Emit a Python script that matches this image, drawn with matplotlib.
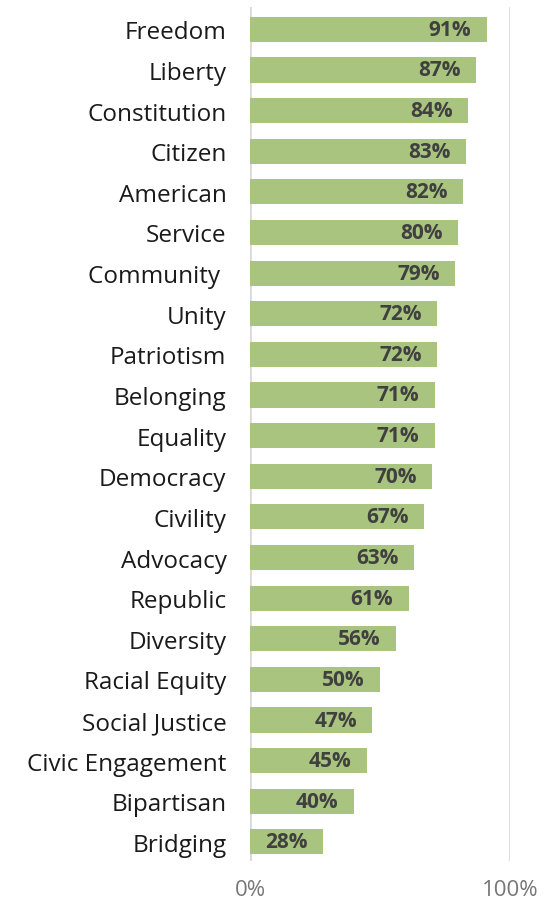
import matplotlib
matplotlib.use("Agg")
import matplotlib.pyplot as plt

# survey terms and share of respondents viewing each positively
terms = ["Freedom", "Liberty", "Constitution", "Citizen", "American", "Service",
         "Community ", "Unity", "Patriotism", "Belonging", "Equality", "Democracy",
         "Civility", "Advocacy", "Republic", "Diversity", "Racial Equity",
         "Social Justice", "Civic Engagement", "Bipartisan", "Bridging"]
values = [91, 87, 84, 83, 82, 80, 79, 72, 72, 71, 71, 70, 67, 63, 61, 56, 50, 47, 45, 40, 28]
x_ticks = [0, 100]
x_tick_labels = ["0%", "100%"]

plt.rcParams["font.family"] = ["Open Sans", "DejaVu Sans"]

fig = plt.figure(figsize=(5.47, 9.04), dpi=100)
ax = fig.add_axes([250 / 547, 1 - 862 / 904, 260 / 547, 854 / 904])

pos = list(range(len(terms)))
ax.barh(pos, values, height=0.62, color="#a9c47f", zorder=2)

for p, v in zip(pos, values):
    ax.annotate(f"{v}%", xy=(v, p), xytext=(-11, 0), textcoords="offset points",
                ha="right", va="center", fontsize=15, fontweight="bold",
                color="#404040", zorder=3)

ax.set_xlim(0, 100)
ax.set_ylim(20.47, -0.55)
ax.set_yticks(pos)
ax.set_yticklabels(terms, fontsize=17.5, color="#1a1a1a")
ax.set_xticks(x_ticks)
ax.set_xticklabels(x_tick_labels, fontsize=16, color="#777777")
ax.tick_params(axis="both", length=0)
ax.tick_params(axis="y", pad=17)
ax.tick_params(axis="x", pad=13)

for x in x_ticks:
    ax.axvline(x, color="#d9d9d9", lw=2, zorder=1)
for s in ax.spines.values():
    s.set_visible(False)

fig.savefig("out.png", dpi=100)
